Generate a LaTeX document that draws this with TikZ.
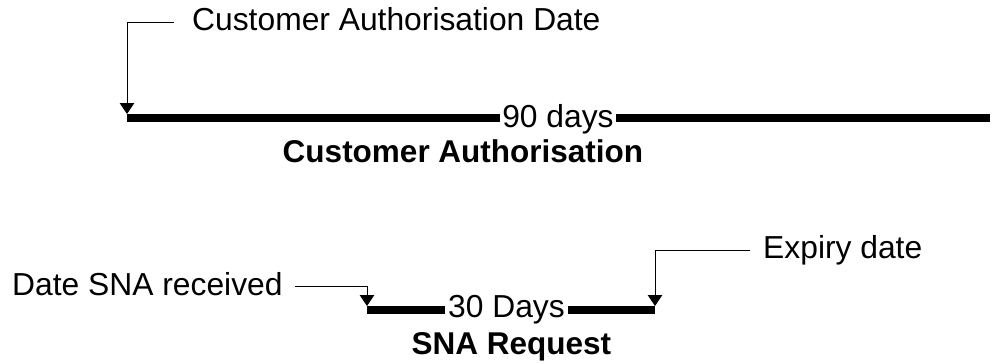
\documentclass[tikz,border=0pt]{standalone}
\usepackage{fontspec}
\setmainfont{Liberation Sans}
\usetikzlibrary{arrows.meta}
\begin{document}
\begin{tikzpicture}[x=1pt,y=-1pt,
  lbl/.style={font=\fontsize{31.8}{38}\selectfont, inner sep=0pt},
  blbl/.style={font=\fontsize{31.5}{38}\selectfont\bfseries, inner sep=0pt},
  barlbl/.style={font=\fontsize{31.8}{38}\selectfont, inner xsep=2.5pt, inner ysep=0pt},
  bar/.style={line width=8pt},
  callout/.style={line width=0.9pt, -{Triangle[width=14.5pt,length=11pt]}}]
\useasboundingbox (0,0) rectangle (993,364);
% top timeline
\coordinate (a0) at (127,118);
\coordinate (a1) at (990,118);
\node[barlbl, anchor=base] (d90) at (558,127) {90 days};
\draw[bar] (a0) -- (d90.west |- a0);
\draw[bar] (d90.east |- a1) -- (a1);
\node[lbl, anchor=base west] (cad) at (192,30) {Customer Authorisation Date};
\coordinate (c1) at (174,22);
\coordinate (c2) at (127,22);
\coordinate (c3) at (127,114);
\draw[callout] (c1) -- (c2) -- (c3);
\node[blbl, anchor=base] (ca) at (463,162) {Customer Authorisation};
% bottom timeline
\coordinate (b0) at (367,310);
\coordinate (b1) at (655,310);
\node[barlbl, anchor=base] (d30) at (506.5,317) {30 Days};
\draw[bar] (b0) -- (d30.west |- b0);
\draw[bar] (d30.east |- b1) -- (b1);
\node[lbl, anchor=base west] (dsr) at (12,295) {Date SNA received};
\coordinate (s1) at (295,286);
\coordinate (s2) at (367,286);
\coordinate (s3) at (367,306);
\draw[callout] (s1) -- (s2) -- (s3);
\node[lbl, anchor=base west] (exp) at (763,258) {Expiry date};
\coordinate (e1) at (750,250);
\coordinate (e2) at (655,250);
\coordinate (e3) at (655,306);
\draw[callout] (e1) -- (e2) -- (e3);
\node[blbl, anchor=base] (sr) at (511.5,354) {SNA Request};
\end{tikzpicture}
\end{document}
